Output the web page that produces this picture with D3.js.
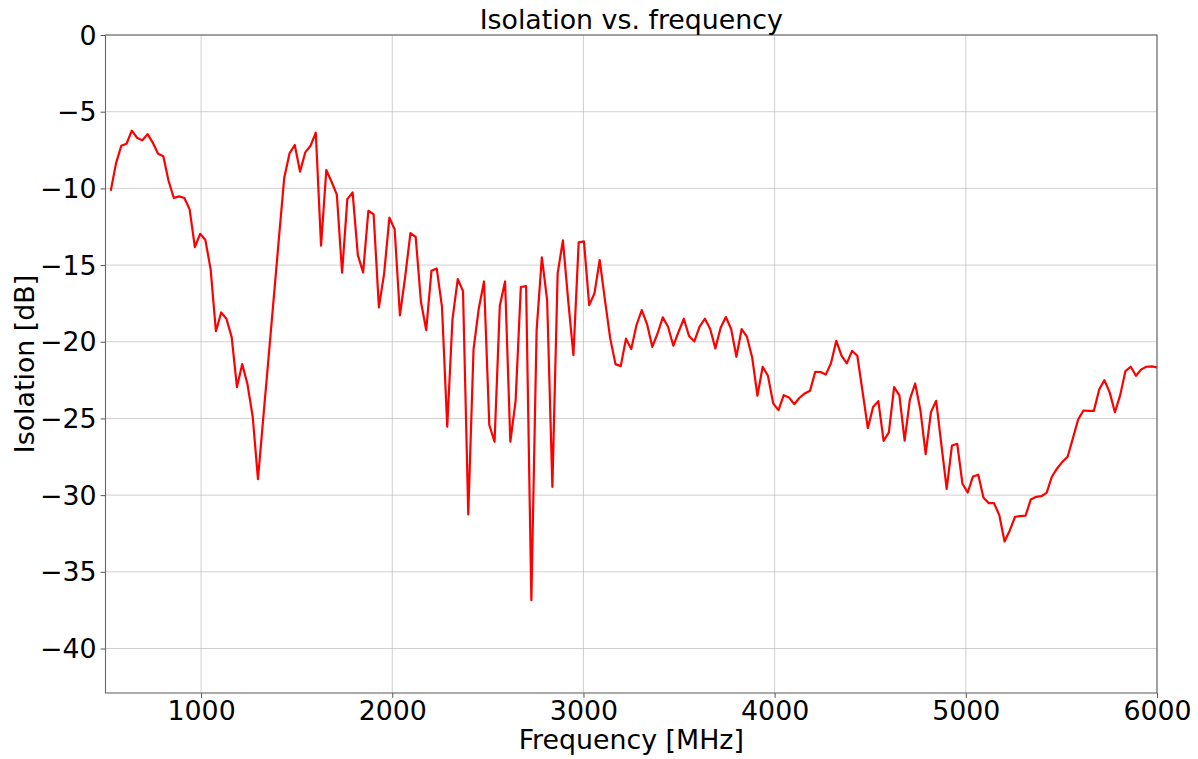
<!DOCTYPE html>
<html>
<head>
<meta charset="utf-8">
<script src="https://cdn.jsdelivr.net/npm/d3@7"></script>
<style>
  html, body { margin: 0; padding: 0; background: #fff; }
  svg text { font-family: "DejaVu Sans", sans-serif; fill: #000; }
</style>
</head>
<body>
<svg id="chart" width="1198" height="759"></svg>
<script>
const title = "Isolation vs. frequency";
const xLabel = "Frequency [MHz]";
const yLabel = "Isolation [dB]";

const frequency = [
  527.5, 555, 582.5, 610, 637.5, 665, 692.5, 720,
  747.5, 775, 802.5, 830, 857.5, 885, 912.5, 940,
  967.5, 995, 1022.5, 1050, 1077.5, 1105, 1132.5, 1160,
  1187.5, 1215, 1242.5, 1270, 1297.5, 1325, 1352.5, 1380,
  1407.5, 1435, 1462.5, 1490, 1517.5, 1545, 1572.5, 1600,
  1627.5, 1655, 1682.5, 1710, 1737.5, 1765, 1792.5, 1820,
  1847.5, 1875, 1902.5, 1930, 1957.5, 1985, 2012.5, 2040,
  2067.5, 2095, 2122.5, 2150, 2177.5, 2205, 2232.5, 2260,
  2287.5, 2315, 2342.5, 2370, 2397.5, 2425, 2452.5, 2480,
  2507.5, 2535, 2562.5, 2590, 2617.5, 2645, 2672.5, 2700,
  2727.5, 2755, 2782.5, 2810, 2837.5, 2865, 2892.5, 2920,
  2947.5, 2975, 3002.5, 3030, 3057.5, 3085, 3112.5, 3140,
  3167.5, 3195, 3222.5, 3250, 3277.5, 3305, 3332.5, 3360,
  3387.5, 3415, 3442.5, 3470, 3497.5, 3525, 3552.5, 3580,
  3607.5, 3635, 3662.5, 3690, 3717.5, 3745, 3772.5, 3800,
  3827.5, 3855, 3882.5, 3910, 3937.5, 3965, 3992.5, 4020,
  4047.5, 4075, 4102.5, 4130, 4157.5, 4185, 4212.5, 4240,
  4267.5, 4295, 4322.5, 4350, 4377.5, 4405, 4432.5, 4460,
  4487.5, 4515, 4542.5, 4570, 4597.5, 4625, 4652.5, 4680,
  4707.5, 4735, 4762.5, 4790, 4817.5, 4845, 4872.5, 4900,
  4927.5, 4955, 4982.5, 5010, 5037.5, 5065, 5092.5, 5120,
  5147.5, 5175, 5202.5, 5230, 5257.5, 5285, 5312.5, 5340,
  5367.5, 5395, 5422.5, 5450, 5477.5, 5505, 5532.5, 5560,
  5587.5, 5615, 5642.5, 5670, 5697.5, 5725, 5752.5, 5780,
  5807.5, 5835, 5862.5, 5890, 5917.5, 5945, 5972.5, 6000
];

const isolation = [
  -10.15, -8.37, -7.22, -7.09, -6.24, -6.70, -6.87, -6.46,
  -7.02, -7.74, -7.91, -9.52, -10.63, -10.52, -10.63, -11.37,
  -13.83, -12.96, -13.37, -15.28, -19.31, -18.09, -18.50, -19.70,
  -22.96, -21.46, -22.76, -24.89, -28.96, -25.0, -21.1, -17.15,
  -13.2, -9.30, -7.72, -7.17, -8.91, -7.65, -7.22, -6.37,
  -13.74, -8.80, -9.57, -10.41, -15.50, -10.70, -10.26, -14.35,
  -15.48, -11.46, -11.70, -17.76, -15.54, -11.91, -12.67, -18.28,
  -15.76, -12.91, -13.17, -17.39, -19.24, -15.37, -15.22, -17.72,
  -25.54, -18.52, -15.91, -16.70, -31.26, -20.50, -17.83, -16.07,
  -25.43, -26.52, -17.65, -16.07, -26.52, -23.87, -16.43, -16.37,
  -36.85, -19.24, -14.50, -17.28, -29.46, -15.54, -13.39, -17.28,
  -20.87, -13.52, -13.46, -17.61, -16.85, -14.67, -17.28, -19.78,
  -21.46, -21.59, -19.80, -20.48, -18.91, -17.93, -18.85, -20.33,
  -19.46, -18.41, -19.02, -20.26, -19.35, -18.50, -19.63, -19.98,
  -19.02, -18.50, -19.15, -20.43, -19.09, -18.39, -19.17, -20.98,
  -19.17, -19.67, -21.02, -23.52, -21.63, -22.22, -24.02, -24.46,
  -23.48, -23.63, -24.07, -23.65, -23.37, -23.20, -21.96, -21.97,
  -22.14, -21.39, -19.94, -20.91, -21.41, -20.59, -20.91, -23.26,
  -25.63, -24.26, -23.87, -26.46, -25.91, -22.96, -23.50, -26.44,
  -23.76, -22.72, -24.46, -27.33, -24.59, -23.85, -26.74, -29.59,
  -26.76, -26.65, -29.26, -29.83, -28.78, -28.67, -30.17, -30.52,
  -30.52, -31.30, -33.02, -32.30, -31.41, -31.37, -31.33, -30.28,
  -30.11, -30.07, -29.85, -28.80, -28.26, -27.83, -27.50, -26.30,
  -25.07, -24.48, -24.50, -24.50, -23.11, -22.50, -23.30, -24.59,
  -23.48, -21.91, -21.63, -22.22, -21.80, -21.63, -21.61, -21.67
];

const xTicks = [1000, 2000, 3000, 4000, 5000, 6000];
const yTicks = [0, -5, -10, -15, -20, -25, -30, -35, -40];
const xDomain = [500, 6000];
const yDomain = [-42.9, 0];

(function () {
const svg = d3.select("#chart");
const pL = 105.5, pR = 1157, pT = 35, pB = 693;

const x = d3.scaleLinear().domain(xDomain).range([pL, pR]);
const y = d3.scaleLinear().domain(yDomain).range([pB, pT]);

const fs = 26.8;

// grid
const grid = svg.append("g");
grid.selectAll("line.gx").data(xTicks).join("line")
  .attr("x1", d => x(d)).attr("x2", d => x(d))
  .attr("y1", pT).attr("y2", pB)
  .attr("stroke", "#b0b0b0").attr("stroke-opacity", 0.6).attr("stroke-width", 1);
grid.selectAll("line.gy").data(yTicks).join("line")
  .attr("x1", pL).attr("x2", pR)
  .attr("y1", d => y(d)).attr("y2", d => y(d))
  .attr("stroke", "#b0b0b0").attr("stroke-opacity", 0.6).attr("stroke-width", 1);

// line
const data = frequency.map((f, i) => [f, isolation[i]]);
svg.append("path")
  .datum(data)
  .attr("fill", "none")
  .attr("stroke", "#ff0000")
  .attr("stroke-width", 2.2)
  .attr("stroke-linejoin", "round")
  .attr("d", d3.line().x(d => x(d[0])).y(d => y(d[1])));

// axes
const fmtY = d => (d < 0 ? "\u2212" + Math.abs(d) : String(d));
const xAxis = d3.axisBottom(x).tickValues(xTicks).tickSize(4.9).tickPadding(3).tickFormat(d => String(d));
const yAxis = d3.axisLeft(y).tickValues(yTicks).tickSize(4.9).tickPadding(4).tickFormat(fmtY);

const gx = svg.append("g").attr("transform", `translate(0,${pB})`).call(xAxis);
const gy = svg.append("g").attr("transform", `translate(${pL},0)`).call(yAxis);
[gx, gy].forEach(g => {
  g.select(".domain").remove();
  g.selectAll(".tick line").attr("stroke", "#555").attr("stroke-width", 1);
  g.selectAll(".tick text").attr("font-size", fs).attr("font-family", "DejaVu Sans").attr("fill", "#000");
});
gy.selectAll(".tick text").attr("dy", "0.34em");

// frame
svg.append("rect")
  .attr("x", pL).attr("y", pT)
  .attr("width", pR - pL).attr("height", pB - pT)
  .attr("fill", "none").attr("stroke", "#666").attr("stroke-width", 1.1);

// labels
svg.append("text")
  .attr("x", (pL + pR) / 2).attr("y", 28.5)
  .attr("text-anchor", "middle").attr("font-size", fs)
  .text(title);
svg.append("text")
  .attr("x", (pL + pR) / 2).attr("y", 748.5)
  .attr("text-anchor", "middle").attr("font-size", fs)
  .text(xLabel);
svg.append("text")
  .attr("transform", `translate(34,${(pT + pB) / 2}) rotate(-90)`)
  .attr("text-anchor", "middle").attr("font-size", fs)
  .text(yLabel);
})();
</script>
</body>
</html>
